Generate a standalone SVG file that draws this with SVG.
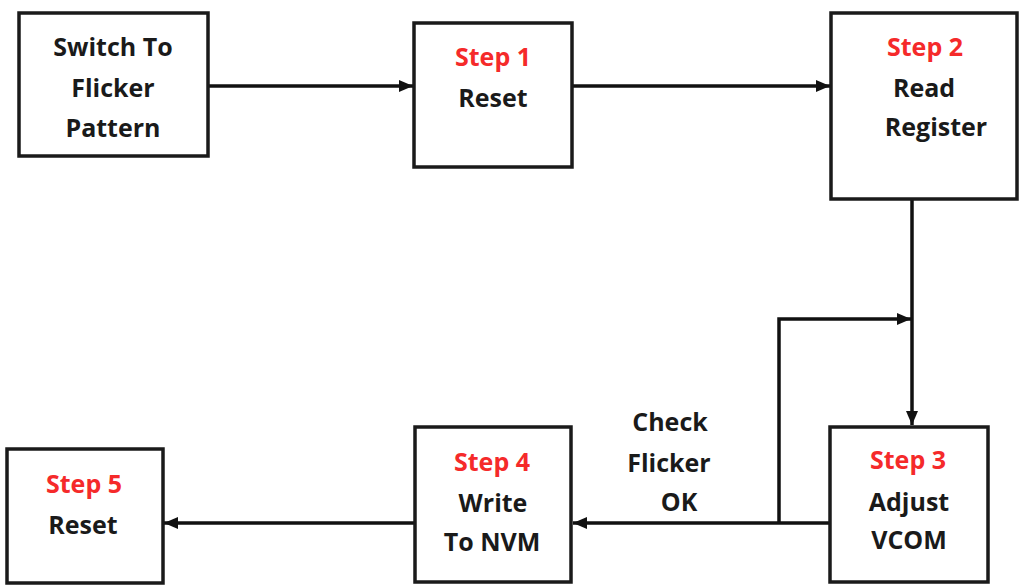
<svg xmlns="http://www.w3.org/2000/svg" width="1025" height="585" viewBox="0 0 1025 585">
<defs>
<marker id="arr" viewBox="0 0 14 12" refX="14" refY="6" markerWidth="14" markerHeight="12" markerUnits="userSpaceOnUse" orient="auto">
<path d="M0,0 L14,6 L0,12 Z" fill="#111"/>
</marker>
</defs>
<style>
.box{fill:#fff;stroke:#1a1a1a;stroke-width:3.5}
.t{font-family:"Open Sans","Noto Sans","Liberation Sans",sans-serif;font-weight:700;font-size:25px;fill:#1a1a1a;text-anchor:middle}
.r{fill:#f52a2a}
.c{fill:none;stroke:#111;stroke-width:3.5}
</style>
<rect width="1025" height="585" fill="#fff"/>
<g id="connectors">
<line class="c" x1="209" y1="86" x2="413" y2="86" marker-end="url(#arr)"/>
<line class="c" x1="573" y1="86" x2="830" y2="86" marker-end="url(#arr)"/>
<line class="c" x1="912" y1="200" x2="912" y2="425" marker-end="url(#arr)"/>
<polyline class="c" points="779,523 779,319 911,319" marker-end="url(#arr)"/>
<line class="c" x1="830" y1="523" x2="573" y2="523" marker-end="url(#arr)"/>
<line class="c" x1="415" y1="523" x2="164" y2="523" marker-end="url(#arr)"/>
</g>
<g id="n-switch">
<rect class="box" x="19" y="13" width="189" height="143"/>
<text class="t" x="113" y="56">Switch To</text>
<text class="t" x="113" y="97">Flicker</text>
<text class="t" x="113" y="137">Pattern</text>
</g>
<g id="n-step1">
<rect class="box" x="414" y="23" width="158" height="144"/>
<text class="t r" x="493" y="66">Step 1</text>
<text class="t" x="493" y="107">Reset</text>
</g>
<g id="n-step2">
<rect class="box" x="831" y="13" width="186" height="186"/>
<text class="t r" x="925" y="56">Step 2</text>
<text class="t" x="924" y="97">Read</text>
<text class="t" x="936" y="136">Register</text>
</g>
<g id="n-step3">
<rect class="box" x="830" y="427" width="158" height="155"/>
<text class="t r" x="908" y="469">Step 3</text>
<text class="t" x="909" y="511">Adjust</text>
<text class="t" x="909" y="549">VCOM</text>
</g>
<g id="n-step4">
<rect class="box" x="415" y="427" width="156" height="155"/>
<text class="t r" x="492" y="471">Step 4</text>
<text class="t" x="493" y="512">Write</text>
<text class="t" x="492" y="551">To NVM</text>
</g>
<g id="n-step5">
<rect class="box" x="7" y="449" width="156" height="134"/>
<text class="t r" x="84" y="493">Step 5</text>
<text class="t" x="83" y="534">Reset</text>
</g>
<g id="label-check">
<text class="t" x="670" y="431">Check</text>
<text class="t" x="669" y="472">Flicker</text>
<text class="t" x="679" y="511">OK</text>
</g>
</svg>
